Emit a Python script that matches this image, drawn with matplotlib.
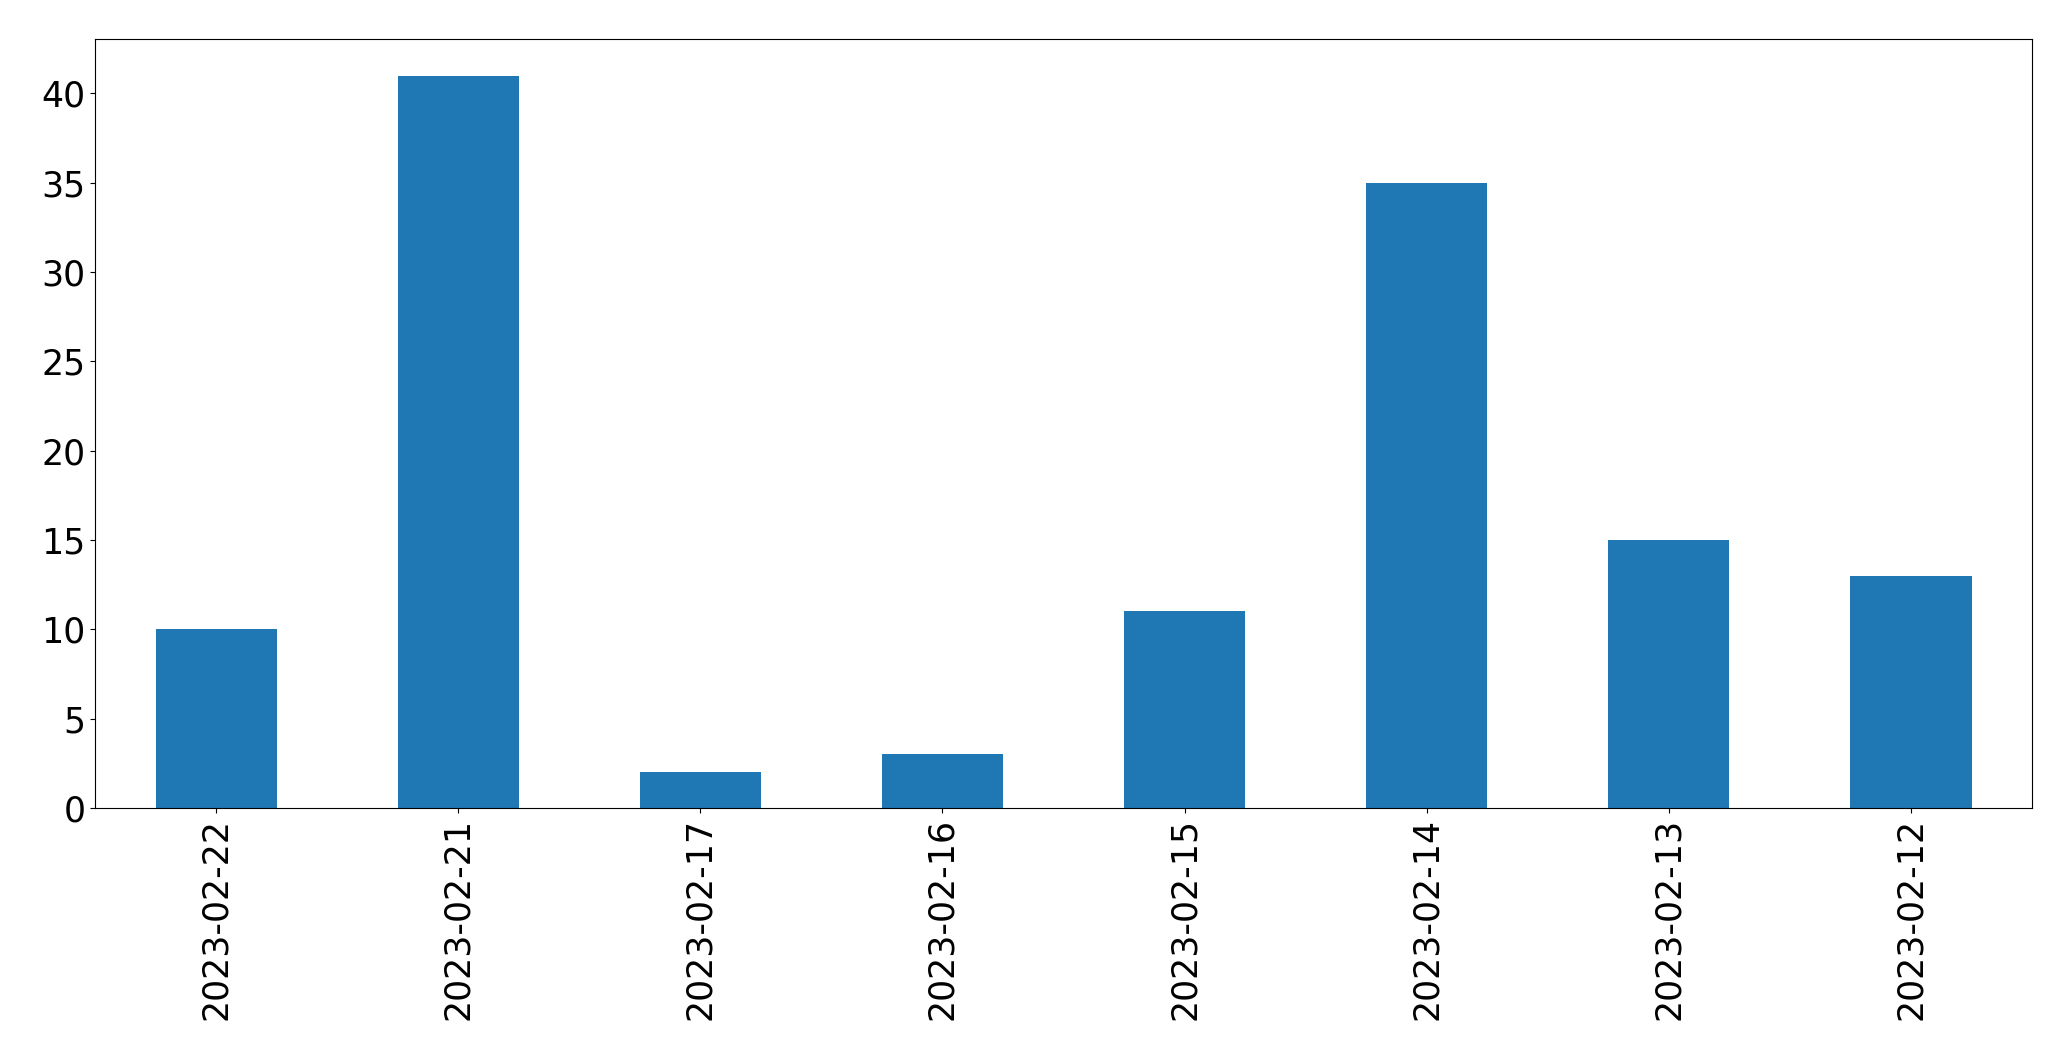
import pandas as pd
import matplotlib
matplotlib.use("Agg")
import matplotlib.pyplot as plt

# datos
fechas = ['2023-02-22', '2023-02-21', '2023-02-17', '2023-02-16',
          '2023-02-15', '2023-02-14', '2023-02-13', '2023-02-12']
conteos = [10, 41, 2, 3, 11, 35, 15, 13]

serie = pd.Series(conteos, index=fechas)

fig = plt.figure(figsize=(20.71, 10.61), dpi=100)
ax = fig.add_axes([0.0459, 0.2385, 0.9353, 0.7248])
serie.plot(kind='bar', ax=ax, color='#1f77b4')
ax.tick_params(axis='both', labelsize=25)

fig.savefig('out.png', dpi=100)
